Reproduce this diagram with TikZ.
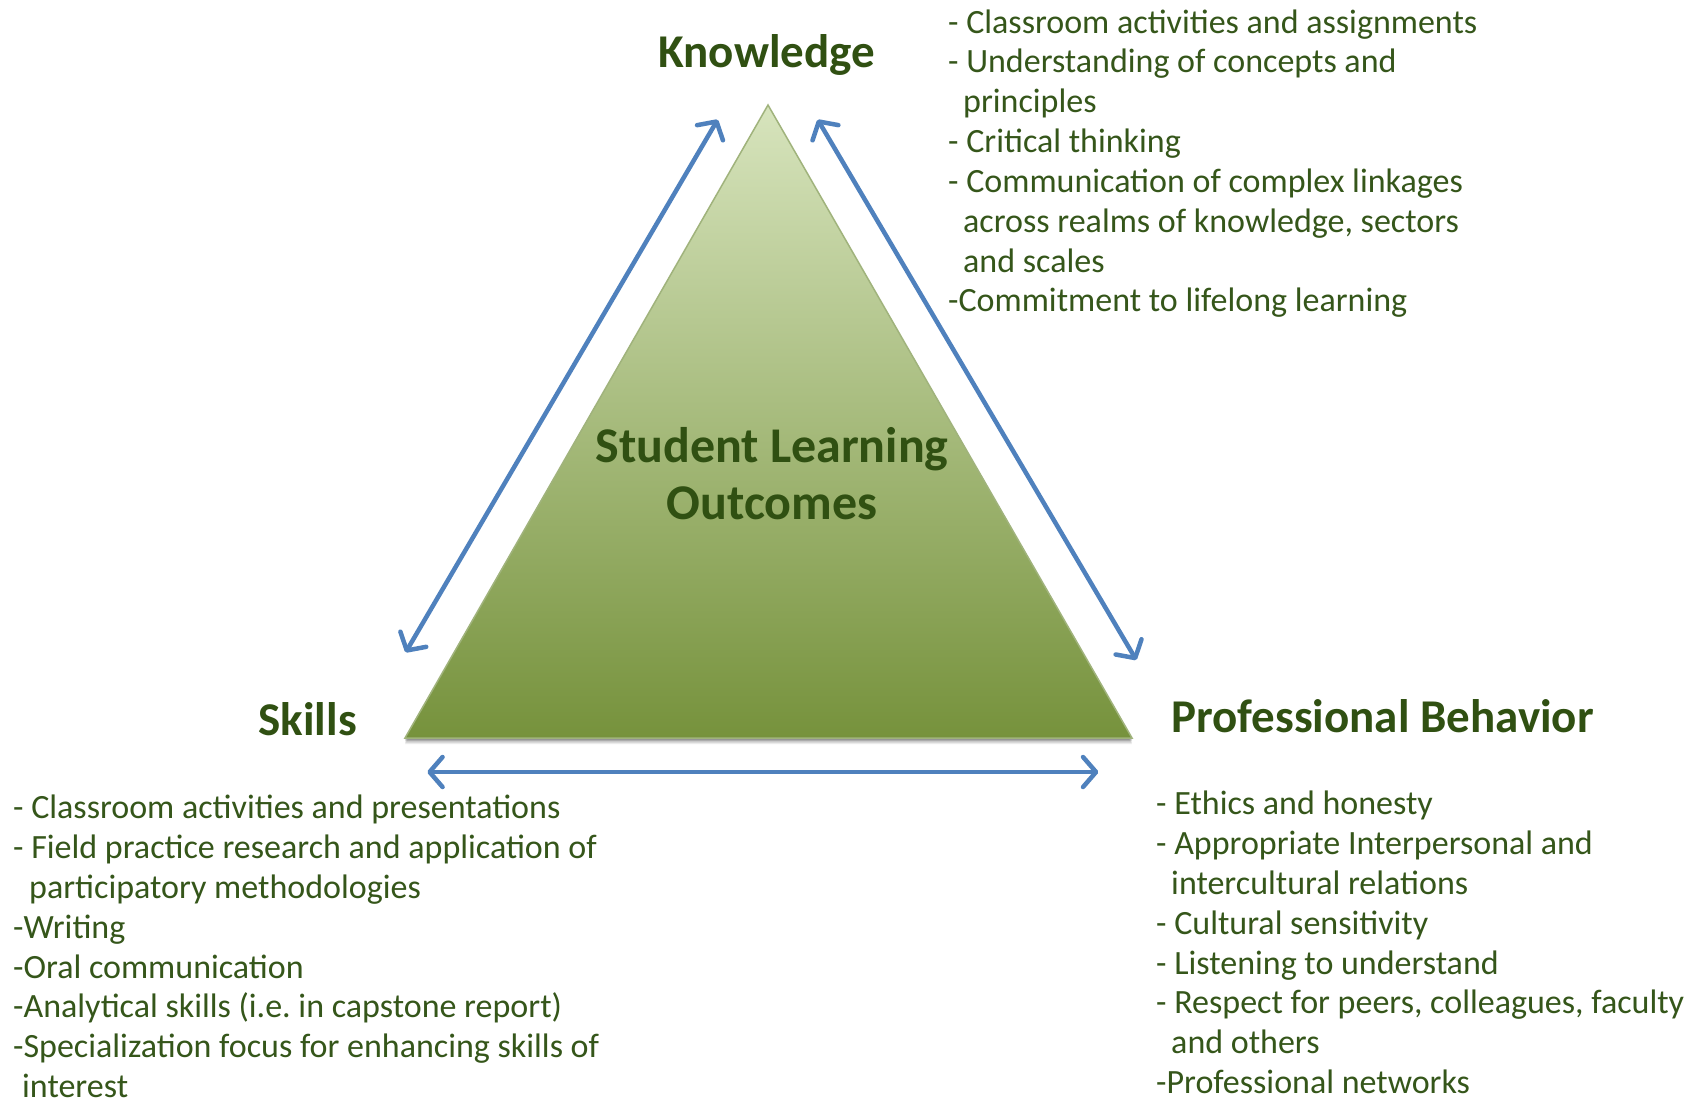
\documentclass[tikz,border=0pt]{standalone}
\usepackage{fontspec}
\setmainfont{Carlito}
\usetikzlibrary{arrows.meta}
\definecolor{txtgreen}{HTML}{35561A}
\definecolor{titlegreen}{HTML}{305012}
\definecolor{arrowblue}{HTML}{4F81BD}
\definecolor{trilight}{HTML}{D7E4BD}
\definecolor{tridark}{HTML}{76923C}
\definecolor{triedge}{HTML}{A0B37C}
\begin{document}
\begin{tikzpicture}[x=1pt,y=-1pt,
  title/.style={font=\fontsize{47}{57.6}\bfseries\selectfont, text=titlegreen, inner sep=0pt, align=center},
  listtext/.style={font=\fontsize{34}{39.85}\selectfont, text=txtgreen, inner sep=0pt, align=left, anchor=north west},
  link/.style={draw=arrowblue, line width=4.5pt, {Straight Barb[length=13pt,width=30pt,round]}-{Straight Barb[length=13pt,width=30pt,round]}}
]
\useasboundingbox[fill=white] (0,0) rectangle (1705,1098);

% triangle
\coordinate (apex) at (768,105);
\coordinate (bl) at (405,738);
\coordinate (br) at (1132,738);
\foreach \o/\op in {6/0.08,4.5/0.12,3/0.16,1.5/0.2}{
  \fill[black, opacity=\op] ([yshift=-\o pt]apex) -- ([yshift=-\o pt]br) -- ([yshift=-\o pt]bl) -- cycle;
}
\shade[top color=trilight, bottom color=tridark, draw=triedge, line width=1.5pt] (apex) -- (br) -- (bl) -- cycle;

% titles
\node[title, anchor=base] (know) at (766.6,67.4) {Knowledge};
\node[title, anchor=base] (skills) at (307.7,735) {Skills};
\node[title, anchor=base west] (prof) at (1171,732) {Professional Behavior};
\node[title, anchor=north, font=\fontsize{50}{57.6}\bfseries\selectfont] (slo) at (772,426) {\rule{0pt}{36pt}Student Learning\\Outcomes};

% arrows
\coordinate (kl) at (717.7,119.6);
\coordinate (sl) at (405.6,652.4);
\coordinate (kr) at (817.7,119.6);
\coordinate (pr) at (1136.3,660);
\coordinate (sb) at (427.3,772);
\coordinate (pb) at (1098.3,772);
\draw[link] (kl) -- (sl);
\draw[link] (kr) -- (pr);
\draw[link] (sb) -- (pb);

% lists
\node[listtext] (klist) at (948,2.8) {\rule{0pt}{30pt}- Classroom activities and assignments\\
- Understanding of concepts and\\
\hspace*{15pt}principles\\
- Critical thinking\\
- Communication of complex linkages\\
\hspace*{15pt}across realms of knowledge, sectors\\
\hspace*{15pt}and scales\\
-Commitment to lifelong learning};

\node[listtext] (slist) at (13,788.5) {\rule{0pt}{30pt}- Classroom activities and presentations\\
- Field practice research and application of\\
\hspace*{16pt}participatory methodologies\\
-Writing\\
-Oral communication\\
-Analytical skills (i.e.\ in capstone report)\\
-Specialization focus for enhancing skills of\\
\hspace*{9pt}interest};

\node[listtext] (plist) at (1156,784.5) {\rule{0pt}{30pt}- Ethics and honesty\\
- Appropriate Interpersonal and\\
\hspace*{15pt}intercultural relations\\
- Cultural sensitivity\\
- Listening to understand\\
- Respect for peers, colleagues, faculty\\
\hspace*{15pt}and others\\
-Professional networks};
\end{tikzpicture}
\end{document}
